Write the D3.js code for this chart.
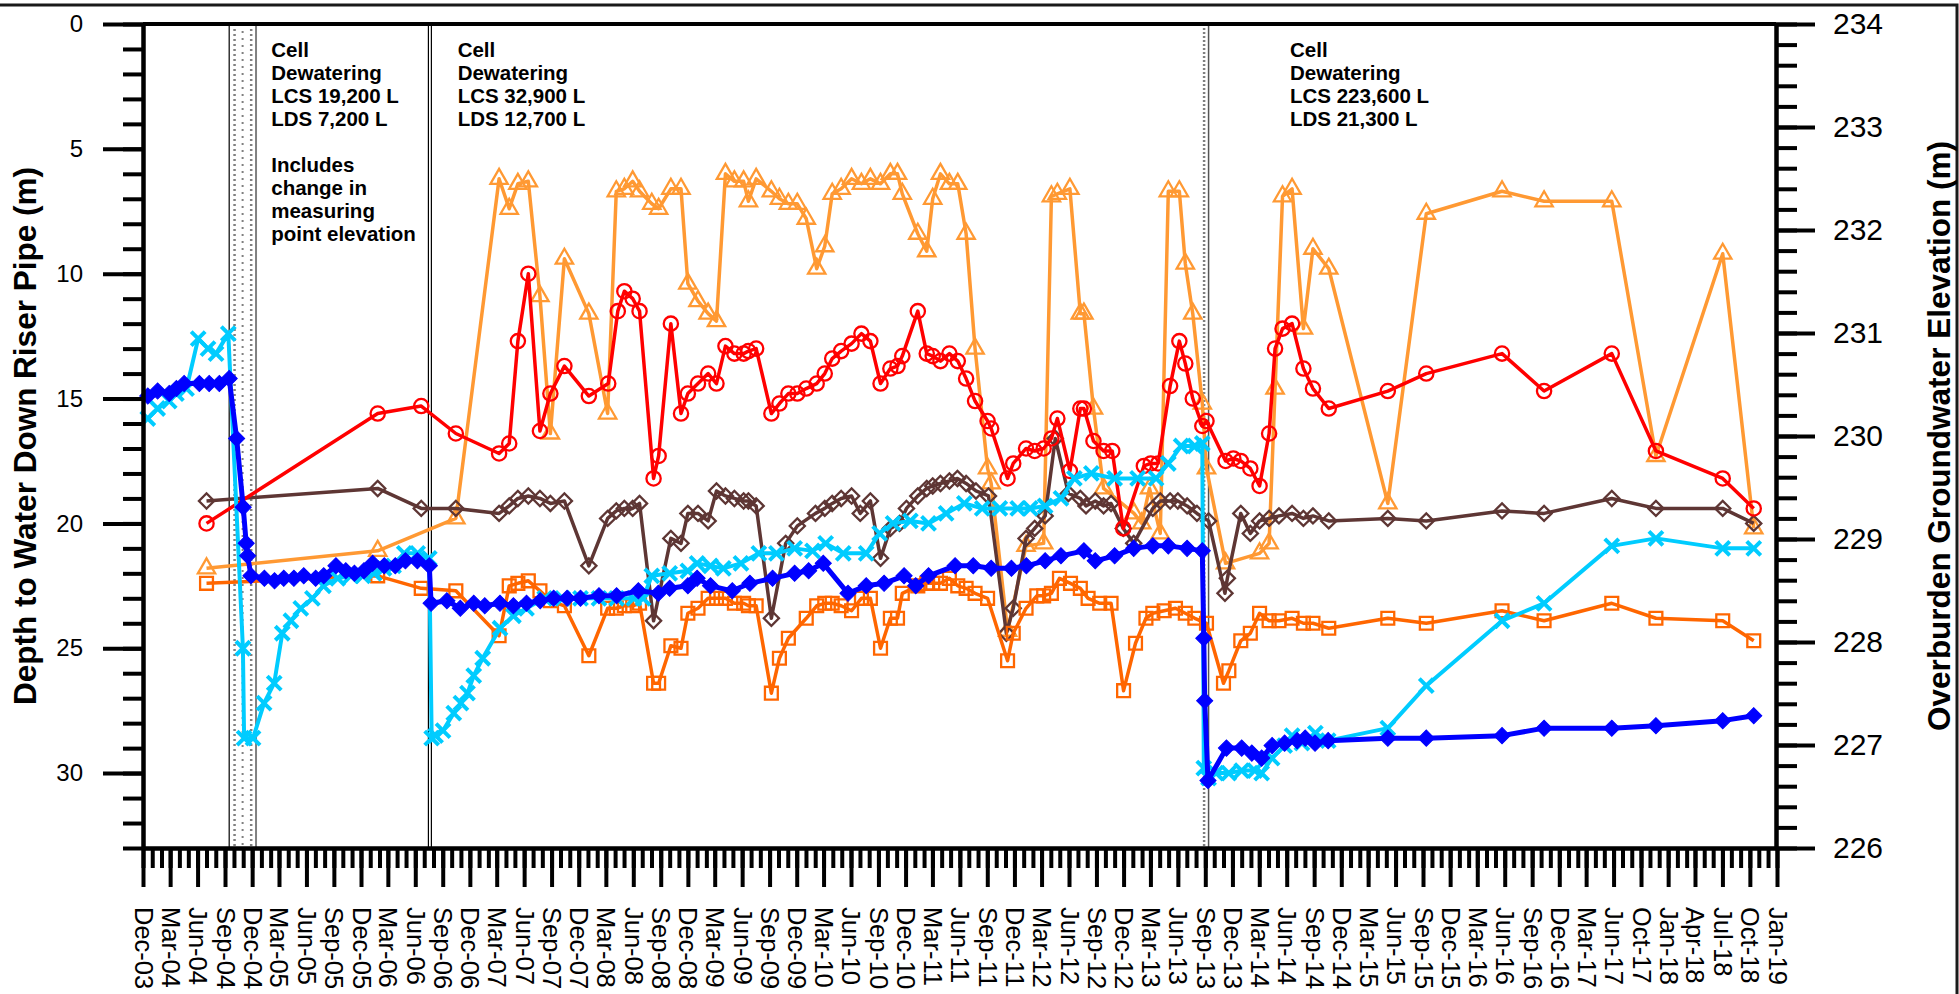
<!DOCTYPE html>
<html>
<head>
<meta charset="utf-8">
<script src="https://cdn.jsdelivr.net/npm/d3@7"></script>
<style>
body { margin: 0; background: #fff; }
svg text { font-family: "Liberation Sans", Arial, sans-serif; }
</style>
</head>
<body>
<script>
// Depth to water in riser pipes, Dec 2003 - Jan 2019

// tick labels along the bottom (one every quarter)
var tickLabels = ["Dec-03","Mar-04","Jun-04","Sep-04","Dec-04","Mar-05","Jun-05","Sep-05","Dec-05","Mar-06",
  "Jun-06","Sep-06","Dec-06","Mar-07","Jun-07","Sep-07","Dec-07","Mar-08","Jun-08","Sep-08","Dec-08","Mar-09",
  "Jun-09","Sep-09","Dec-09","Mar-10","Jun-10","Sep-10","Dec-10","Mar-11","Jun-11","Sep-11","Dec-11","Mar-12",
  "Jun-12","Sep-12","Dec-12","Mar-13","Jun-13","Sep-13","Dec-13","Mar-14","Jun-14","Sep-14","Dec-14","Mar-15",
  "Jun-15","Sep-15","Dec-15","Mar-16","Jun-16","Sep-16","Dec-16","Mar-17","Jun-17","Oct-17","Jan-18","Apr-18",
  "Jul-18","Oct-18","Jan-19"];
var depthTicks = [0, 5, 10, 15, 20, 25, 30];
var elevTicks = [226, 227, 228, 229, 230, 231, 232, 233, 234];

// open triangles
var pipeA = [["2004-07-01",21.8],["2006-01-26",21.1],["2006-10-15",19.8],["2007-03-09",6.2],["2007-04-12",7.4],
  ["2007-05-11",6.4],["2007-06-15",6.3],["2007-07-24",10.9],["2007-08-28",16.4],["2007-10-14",9.4],["2008-01-04",11.6],
  ["2008-03-07",15.6],["2008-04-05",6.7],["2008-05-02",6.6],["2008-05-30",6.3],["2008-06-22",6.7],["2008-08-02",7.2],
  ["2008-08-25",7.4],["2008-10-05",6.6],["2008-11-08",6.6],["2008-12-01",10.4],["2009-01-04",11.1],["2009-02-07",11.6],
  ["2009-03-07",11.9],["2009-04-06",6.0],["2009-05-06",6.3],["2009-06-06",6.3],["2009-06-22",7.1],["2009-07-18",6.2],
  ["2009-09-07",6.7],["2009-10-04",7.0],["2009-11-03",7.2],["2009-12-03",7.2],["2010-01-02",7.8],["2010-02-06",9.8],
  ["2010-03-05",8.9],["2010-03-30",6.8],["2010-04-29",6.6],["2010-06-03",6.2],["2010-07-06",6.4],["2010-08-05",6.2],
  ["2010-09-08",6.4],["2010-10-11",6.0],["2010-11-04",6.0],["2010-11-20",6.8],["2011-01-11",8.4],["2011-02-10",9.1],
  ["2011-03-02",7.0],["2011-03-28",6.0],["2011-04-27",6.4],["2011-05-25",6.4],["2011-06-22",8.4],["2011-07-22",13.0],
  ["2011-09-02",17.8],["2011-09-14",18.4],["2011-11-08",24.3],["2012-01-09",20.9],["2012-03-08",20.8],["2012-04-03",6.9],
  ["2012-04-23",6.8],["2012-06-04",6.6],["2012-07-09",11.6],["2012-07-21",11.6],["2012-08-22",15.4],["2012-09-25",18.6],
  ["2013-01-05",19.6],["2013-01-31",20.0],["2013-02-26",18.6],["2013-04-03",20.4],["2013-04-30",6.7],["2013-06-06",6.7],
  ["2013-06-26",9.6],["2013-07-21",11.6],["2013-08-22",15.2],["2013-09-05",17.8],["2013-11-08",21.6],["2014-03-02",21.2],
  ["2014-04-03",20.8],["2014-04-23",14.6],["2014-05-18",6.9],["2014-06-19",6.6],["2014-07-27",12.2],["2014-08-28",9.0],
  ["2014-10-20",9.8],["2015-05-06",19.2],["2015-09-12",7.6],["2016-05-23",6.7],["2016-10-11",7.1],["2017-05-26",7.1],
  ["2017-10-21",17.3],["2018-06-02",9.2],["2018-09-14",20.2]];

// open circles
var pipeB = [["2004-07-01",20.0],["2006-01-26",15.6],["2006-06-21",15.3],["2006-10-15",16.4],["2007-03-09",17.2],
  ["2007-04-12",16.8],["2007-05-11",12.7],["2007-06-15",10.0],["2007-07-24",16.3],["2007-08-28",14.8],["2007-10-14",13.7],
  ["2008-01-04",14.9],["2008-03-09",14.4],["2008-04-10",11.5],["2008-05-02",10.7],["2008-05-30",11.0],["2008-06-22",11.5],
  ["2008-08-08",18.2],["2008-08-25",17.3],["2008-10-05",12.0],["2008-11-08",15.6],["2008-12-01",14.8],["2009-01-04",14.4],
  ["2009-02-07",14.0],["2009-03-07",14.4],["2009-04-06",12.9],["2009-05-06",13.2],["2009-06-06",13.2],["2009-06-22",13.1],
  ["2009-07-18",13.0],["2009-09-07",15.6],["2009-10-04",15.2],["2009-11-03",14.8],["2009-12-03",14.8],["2010-01-02",14.6],
  ["2010-02-06",14.4],["2010-03-05",14.0],["2010-03-30",13.4],["2010-04-29",13.1],["2010-06-03",12.8],["2010-07-06",12.4],
  ["2010-08-05",12.7],["2010-09-08",14.4],["2010-10-11",13.8],["2010-11-04",13.7],["2010-11-20",13.3],["2011-01-11",11.5],
  ["2011-02-10",13.2],["2011-03-02",13.3],["2011-03-28",13.5],["2011-04-27",13.2],["2011-05-25",13.5],["2011-06-22",14.2],
  ["2011-07-22",15.1],["2011-09-02",15.9],["2011-09-14",16.2],["2011-11-08",18.2],["2011-11-27",17.6],["2012-01-09",17.0],
  ["2012-02-07",17.1],["2012-03-08",17.0],["2012-04-03",16.6],["2012-04-23",15.8],["2012-06-04",17.9],["2012-07-09",15.4],
  ["2012-07-21",15.4],["2012-08-22",16.7],["2012-09-25",17.1],["2012-10-24",17.1],["2012-11-30",20.2],["2013-02-07",17.7],
  ["2013-03-02",17.6],["2013-03-27",17.6],["2013-05-06",14.5],["2013-06-06",12.7],["2013-06-26",13.6],["2013-07-21",15.0],
  ["2013-08-22",16.1],["2013-09-05",15.9],["2013-11-08",17.5],["2013-12-04",17.4],["2013-12-29",17.5],["2014-01-30",17.8],
  ["2014-03-02",18.5],["2014-04-03",16.4],["2014-04-23",13.0],["2014-05-18",12.2],["2014-06-19",12.0],["2014-07-27",13.8],
  ["2014-08-28",14.6],["2014-10-20",15.4],["2015-05-06",14.7],["2015-09-12",14.0],["2016-05-23",13.2],["2016-10-11",14.7],
  ["2017-05-26",13.2],["2017-10-21",17.1],["2018-06-02",18.2],["2018-09-14",19.4]];

// open diamonds
var pipeC = [["2004-07-01",19.1],["2006-01-26",18.6],["2006-06-21",19.4],["2006-10-15",19.4],["2007-03-09",19.6],
  ["2007-04-12",19.3],["2007-05-11",19.0],["2007-06-15",18.9],["2007-07-24",19.0],["2007-08-28",19.2],["2007-10-14",19.1],
  ["2008-01-04",21.7],["2008-03-07",19.8],["2008-04-05",19.5],["2008-05-02",19.4],["2008-05-30",19.4],["2008-06-22",19.2],
  ["2008-08-08",23.9],["2008-10-05",20.6],["2008-11-08",20.8],["2008-12-01",19.6],["2009-01-04",19.6],["2009-02-07",19.9],
  ["2009-03-07",18.7],["2009-04-06",18.9],["2009-05-06",19.0],["2009-06-06",19.1],["2009-06-22",19.1],["2009-07-18",19.3],
  ["2009-09-07",23.8],["2009-10-25",20.8],["2009-12-03",20.1],["2010-02-02",19.6],["2010-03-05",19.4],["2010-03-30",19.2],
  ["2010-04-29",19.0],["2010-06-03",18.9],["2010-07-02",19.6],["2010-08-05",19.1],["2010-09-08",21.4],["2010-10-11",20.2],
  ["2010-11-11",20.0],["2010-12-04",19.4],["2011-01-11",18.9],["2011-02-10",18.6],["2011-03-02",18.5],["2011-03-28",18.4],
  ["2011-04-27",18.3],["2011-05-24",18.2],["2011-06-22",18.4],["2011-07-25",18.7],["2011-09-05",18.9],["2011-11-04",24.4],
  ["2011-11-27",23.4],["2012-01-09",20.6],["2012-02-07",20.2],["2012-03-13",19.7],["2012-04-16",16.6],["2012-05-30",18.8],
  ["2012-07-09",19.0],["2012-07-28",19.3],["2012-08-28",19.1],["2012-09-25",19.3],["2012-10-20",19.2],["2012-11-30",20.2],
  ["2013-01-04",20.8],["2013-03-09",19.4],["2013-04-03",19.1],["2013-05-06",19.1],["2013-06-01",19.1],["2013-07-02",19.3],
  ["2013-08-04",19.6],["2013-09-12",19.9],["2013-11-06",22.8],["2013-11-14",22.2],["2013-12-29",19.6],["2014-01-30",20.4],
  ["2014-03-02",19.9],["2014-04-03",19.8],["2014-05-06",19.7],["2014-06-19",19.6],["2014-07-27",19.8],["2014-08-28",19.7],
  ["2014-10-20",19.9],["2015-05-06",19.8],["2015-09-12",19.9],["2016-05-23",19.5],["2016-10-11",19.6],["2017-05-26",19.0],
  ["2017-10-21",19.4],["2018-06-02",19.4],["2018-09-14",20.0]];

// open squares
var pipeD = [["2004-07-01",22.4],["2006-01-26",22.1],["2006-06-21",22.6],["2006-10-15",22.7],["2007-03-09",24.5],
  ["2007-04-12",22.5],["2007-05-11",22.4],["2007-06-15",22.3],["2007-07-24",22.7],["2007-08-28",23.1],["2007-10-14",23.3],
  ["2008-01-04",25.3],["2008-03-07",23.4],["2008-04-05",23.4],["2008-05-02",23.3],["2008-05-30",23.3],["2008-06-22",23.2],
  ["2008-08-08",26.4],["2008-08-25",26.4],["2008-10-05",24.9],["2008-11-08",25.0],["2008-12-01",23.6],["2009-01-04",23.4],
  ["2009-02-07",23.0],["2009-03-07",23.0],["2009-04-06",23.0],["2009-05-06",23.2],["2009-06-06",23.2],["2009-06-22",23.3],
  ["2009-07-18",23.3],["2009-09-07",26.8],["2009-10-04",25.4],["2009-11-03",24.6],["2010-01-02",23.8],["2010-02-06",23.3],
  ["2010-03-05",23.2],["2010-03-30",23.2],["2010-04-29",23.3],["2010-06-03",23.5],["2010-07-06",23.0],["2010-08-05",23.0],
  ["2010-09-08",25.0],["2010-10-11",23.8],["2010-11-04",23.8],["2010-11-20",22.8],["2011-01-11",22.5],["2011-02-10",22.4],
  ["2011-03-02",22.4],["2011-03-28",22.4],["2011-04-27",22.2],["2011-05-25",22.5],["2011-06-22",22.6],["2011-07-22",22.8],
  ["2011-09-02",23.0],["2011-11-08",25.5],["2011-11-27",24.4],["2012-01-09",23.4],["2012-02-14",22.9],["2012-03-08",22.9],
  ["2012-04-03",22.8],["2012-04-30",22.2],["2012-06-06",22.4],["2012-07-09",22.6],["2012-08-04",23.0],["2012-09-12",23.2],
  ["2012-10-20",23.2],["2012-12-01",26.7],["2013-01-10",24.8],["2013-02-14",23.8],["2013-03-09",23.6],["2013-04-16",23.5],
  ["2013-05-24",23.4],["2013-06-26",23.6],["2013-07-28",23.8],["2013-09-05",24.0],["2013-11-01",26.4],["2013-11-19",25.9],
  ["2013-12-29",24.7],["2014-01-30",24.4],["2014-03-02",23.6],["2014-04-03",23.9],["2014-05-06",23.9],["2014-06-19",23.8],
  ["2014-07-27",24.0],["2014-08-28",24.0],["2014-10-20",24.2],["2015-05-06",23.8],["2015-09-12",24.0],["2016-05-23",23.5],
  ["2016-10-11",23.9],["2017-05-26",23.2],["2017-10-21",23.8],["2018-06-02",23.9],["2018-09-14",24.7]];

// crosses
var pipeE = [["2003-12-17",15.8],["2004-01-19",15.4],["2004-02-27",15.1],["2004-03-22",14.8],["2004-04-25",14.6],
  ["2004-06-03",12.6],["2004-07-06",13.0],["2004-08-02",13.2],["2004-09-12",12.4],["2004-10-31",25.0],["2004-11-04",28.6],
  ["2004-12-04",28.6],["2005-01-10",27.2],["2005-02-13",26.4],["2005-03-12",24.4],["2005-04-10",23.9],["2005-05-13",23.4],
  ["2005-06-21",23.0],["2005-07-28",22.5],["2005-09-14",22.2],["2005-10-28",22.1],["2005-12-07",22.1],["2006-01-14",22.0],
  ["2006-02-16",21.8],["2006-03-20",21.7],["2006-04-25",21.2],["2006-06-09",21.2],["2006-07-18",21.4],["2006-07-26",28.6],
  ["2006-08-08",28.5],["2006-09-02",28.3],["2006-10-08",27.6],["2006-11-01",27.2],["2006-11-23",26.8],["2006-12-14",26.1],
  ["2007-01-13",25.4],["2007-03-12",24.2],["2007-04-26",23.7],["2007-06-09",23.4],["2007-08-09",23.0],["2007-10-08",23.0],
  ["2007-12-07",23.0],["2008-02-07",23.0],["2008-04-06",23.0],["2008-06-03",23.0],["2008-07-04",23.0],["2008-08-02",22.1],
  ["2008-10-01",22.0],["2008-12-01",21.9],["2009-01-01",21.6],["2009-02-15",21.7],["2009-03-30",21.8],["2009-05-28",21.6],
  ["2009-07-27",21.2],["2009-09-24",21.2],["2009-11-24",21.0],["2010-01-23",21.1],["2010-03-08",20.8],["2010-05-06",21.2],
  ["2010-07-22",21.2],["2010-09-05",20.4],["2010-10-20",20.0],["2010-12-17",19.9],["2011-02-16",20.0],["2011-04-16",19.6],
  ["2011-06-16",19.2],["2011-08-15",19.4],["2011-10-13",19.4],["2011-12-12",19.4],["2012-01-23",19.4],["2012-03-13",19.3],
  ["2012-05-05",19.0],["2012-06-19",18.2],["2012-08-15",18.0],["2012-11-01",18.2],["2013-01-17",18.2],["2013-03-20",18.2],
  ["2013-04-30",17.6],["2013-06-12",16.9],["2013-07-28",16.9],["2013-08-22",16.8],["2013-08-27",29.8],["2013-09-12",30.2],
  ["2013-10-07",30.0],["2013-11-19",30.0],["2014-01-01",29.9],["2014-02-14",29.9],["2014-03-09",30.0],["2014-04-13",29.4],
  ["2014-05-25",28.9],["2014-06-19",28.5],["2014-07-22",28.8],["2014-09-05",28.4],["2014-10-18",28.7],["2015-05-06",28.2],
  ["2015-09-12",26.5],["2016-05-23",23.9],["2016-10-11",23.2],["2017-05-26",20.9],["2017-10-21",20.6],["2018-06-02",21.0],
  ["2018-09-14",21.0]];

// filled diamonds
var pipeF = [["2003-12-17",14.9],["2004-01-19",14.7],["2004-02-27",14.8],["2004-03-22",14.6],["2004-04-17",14.4],
  ["2004-06-07",14.4],["2004-07-10",14.4],["2004-08-13",14.4],["2004-09-15",14.2],["2004-10-10",16.6],["2004-11-01",19.35],
  ["2004-11-11",20.8],["2004-11-16",21.3],["2004-11-27",22.1],["2005-01-11",22.2],["2005-02-14",22.3],["2005-03-17",22.2],
  ["2005-04-20",22.2],["2005-05-23",22.1],["2005-07-02",22.2],["2005-07-29",22.1],["2005-09-08",21.7],["2005-10-11",21.9],
  ["2005-11-09",22.0],["2005-12-11",21.9],["2006-01-09",21.6],["2006-02-17",21.7],["2006-03-26",21.7],["2006-04-29",21.5],
  ["2006-06-08",21.5],["2006-07-18",21.7],["2006-07-24",23.2],["2006-09-15",23.1],["2006-10-30",23.4],["2006-12-14",23.2],
  ["2007-01-20",23.3],["2007-03-12",23.2],["2007-04-26",23.3],["2007-06-09",23.2],["2007-07-25",23.1],["2007-09-08",23.0],
  ["2007-10-23",23.0],["2007-12-07",23.0],["2008-02-07",22.9],["2008-04-06",22.9],["2008-06-18",22.7],["2008-08-24",22.8],
  ["2008-10-01",22.6],["2008-12-01",22.5],["2009-01-01",22.2],["2009-02-15",22.5],["2009-04-29",22.7],["2009-06-27",22.4],
  ["2009-09-11",22.2],["2009-11-24",22.0],["2010-01-10",21.9],["2010-02-28",21.6],["2010-05-22",22.8],["2010-07-22",22.5],
  ["2010-09-20",22.4],["2010-11-26",22.1],["2011-01-04",22.5],["2011-02-16",22.1],["2011-05-16",21.7],["2011-07-16",21.7],
  ["2011-09-14",21.8],["2011-11-21",21.8],["2012-01-10",21.7],["2012-03-13",21.5],["2012-05-05",21.3],["2012-07-21",21.1],
  ["2012-08-28",21.5],["2012-11-01",21.3],["2013-01-04",21.0],["2013-03-09",20.9],["2013-04-30",20.9],["2013-07-02",21.0],
  ["2013-08-22",21.1],["2013-08-27",24.6],["2013-08-30",27.1],["2013-09-10",30.3],["2013-11-11",29.0],["2014-01-01",29.0],
  ["2014-02-04",29.2],["2014-03-09",29.4],["2014-04-13",28.9],["2014-05-25",28.8],["2014-07-06",28.7],["2014-08-02",28.6],
  ["2014-09-04",28.8],["2014-10-18",28.7],["2015-05-06",28.6],["2015-09-12",28.6],["2016-05-23",28.5],["2016-10-11",28.2],
  ["2017-05-26",28.2],["2017-10-21",28.1],["2018-06-02",27.9],["2018-09-14",27.7]];

// cell dewatering events
var dewatering = [
  { start: "2004-09-15", end: "2004-12-14", kind: "band" },
  { start: "2006-07-15", end: "2006-07-25", kind: "double" },
  { start: "2013-08-28", end: "2013-09-12", kind: "narrow" }
];
var notes = [
  { date: "2005-02-03", lines: ["Cell", "Dewatering", "LCS 19,200 L", "LDS 7,200 L", "", "Includes", "change in", "measuring", "point elevation"] },
  { date: "2006-10-21", lines: ["Cell", "Dewatering", "LCS 32,900 L", "LDS 12,700 L"] },
  { date: "2014-06-12", lines: ["Cell", "Dewatering", "LCS 223,600 L", "LDS 21,300 L"] }
];

// Settings
var w = 1959, h = 994;
var pL = 143, pR = 1776, pT = 24, pB = 848;
var parse = d3.timeParse("%Y-%m-%d");
var start = new Date(2003, 11, 1), end = new Date(2018, 11, 1);

var svg = d3.select("body").append("svg")
  .attr("width", w).attr("height", h);

// outer frame
svg.append("rect")
  .attr("x", -3).attr("y", 5).attr("width", 1960).attr("height", 1000)
  .attr("fill", "none").attr("stroke", "#1a1a1a").attr("stroke-width", 3);

var xScale = d3.scaleTime().domain([start, end]).range([pL, pR + 1]);
var yScale = d3.scaleLinear().domain([0, 33]).range([pT, pB]);
var y2Scale = d3.scaleLinear().domain([226, 234]).range([pB, pT]);

// dewatering markers
dewatering.forEach(function(ev) {
  var x0 = xScale(parse(ev.start)), x1 = xScale(parse(ev.end));
  var g = svg.append("g");
  if (ev.kind === "band") {
    [0.2, 0.5, 0.82].forEach(function(f, i) {
      g.append("line").attr("x1", x0 + (x1 - x0) * f).attr("x2", x0 + (x1 - x0) * f)
        .attr("y1", pT).attr("y2", pB)
        .attr("stroke", "#808080").attr("stroke-width", i === 1 ? 2 : 2.5)
        .attr("stroke-dasharray", i === 1 ? "2,5" : "2,3");
    });
    g.append("line").attr("x1", x0).attr("x2", x0).attr("y1", pT).attr("y2", pB)
      .attr("stroke", "#000").attr("stroke-width", 1.2);
    g.append("line").attr("x1", x1).attr("x2", x1).attr("y1", pT).attr("y2", pB)
      .attr("stroke", "#808080").attr("stroke-width", 2);
  } else if (ev.kind === "double") {
    [x0, x1].forEach(function(xx) {
      g.append("line").attr("x1", xx).attr("x2", xx).attr("y1", pT).attr("y2", pB)
        .attr("stroke", "#000").attr("stroke-width", 1.2);
    });
  } else {
    g.append("line").attr("x1", x0).attr("x2", x0).attr("y1", pT).attr("y2", pB)
      .attr("stroke", "#808080").attr("stroke-width", 2.5).attr("stroke-dasharray", "2,2");
    g.append("line").attr("x1", x1).attr("x2", x1).attr("y1", pT).attr("y2", pB)
      .attr("stroke", "#555").attr("stroke-width", 1.5);
  }
});

// annotations
notes.forEach(function(n) {
  var t = svg.append("text")
    .attr("x", xScale(parse(n.date))).attr("y", 57)
    .attr("font-size", 20.5).attr("font-weight", "bold").attr("fill", "#000");
  n.lines.forEach(function(s, i) {
    t.append("tspan").attr("x", xScale(parse(n.date))).attr("y", 57 + i * 23).text(s);
  });
});

// series, drawn bottom to top
var diamond = function(size) { return d3.symbol().type(d3.symbolSquare).size(size); };
var series = [
  { data: pipeA, color: "#FF9933", width: 3.5, sym: d3.symbol().type(d3.symbolTriangle).size(130), rot: 0, fill: "none" },
  { data: pipeC, color: "#5E3634", width: 3.5, sym: diamond(115), rot: 45, fill: "none" },
  { data: pipeD, color: "#FF6600", width: 3.5, sym: d3.symbol().type(d3.symbolSquare).size(165), rot: 0, fill: "none" },
  { data: pipeB, color: "#FF0000", width: 3.5, sym: d3.symbol().type(d3.symbolCircle).size(160), rot: 0, fill: "none" },
  { data: pipeE, color: "#00CCFF", width: 4, sym: null, rot: 0, fill: "none" },
  { data: pipeF, color: "#0000FF", width: 5, sym: diamond(130), rot: 45, fill: "#0000FF" }
];

var line = d3.line()
  .x(function(d) { return xScale(parse(d[0])); })
  .y(function(d) { return yScale(d[1]); });

series.forEach(function(s) {
  svg.append("path")
    .datum(s.data)
    .attr("d", line)
    .attr("fill", "none")
    .attr("stroke", s.color)
    .attr("stroke-width", s.width)
    .attr("stroke-linejoin", "round");

  var marks = svg.append("g").selectAll("path")
    .data(s.data)
    .enter()
    .append("path")
    .attr("transform", function(d) {
      return "translate(" + xScale(parse(d[0])) + "," + yScale(d[1]) + ") rotate(" + s.rot + ")";
    });
  if (s.sym) {
    marks.attr("d", s.sym)
      .attr("fill", s.fill)
      .attr("stroke", s.color)
      .attr("stroke-width", s.fill === "none" ? 2.3 : 1);
  } else {
    marks.attr("d", "M-7,-7L7,7M-7,7L7,-7")
      .attr("fill", "none")
      .attr("stroke", s.color)
      .attr("stroke-width", 4);
  }
});

// axes
function styleAxis(g, fontSize) {
  g.attr("font-family", "Liberation Sans, Arial, sans-serif").attr("font-size", fontSize);
  g.select(".domain").attr("stroke", "#000").attr("stroke-width", 4);
  g.selectAll(".tick line").attr("stroke", "#000").attr("stroke-width", 4);
  g.selectAll(".tick text").attr("fill", "#000");
}

// top edge of plot
svg.append("line")
  .attr("x1", pL).attr("x2", pR).attr("y1", pT).attr("y2", pT)
  .attr("stroke", "#000").attr("stroke-width", 4);

// left axis
svg.append("g").attr("transform", "translate(" + pL + ",0)")
  .call(d3.axisLeft(yScale).tickValues(d3.range(0, 34)).tickSize(20).tickSizeOuter(0).tickFormat(""))
  .call(styleAxis, 24);
svg.append("g").attr("transform", "translate(" + pL + ",0)")
  .call(d3.axisLeft(yScale).tickValues(depthTicks).tickSize(40).tickPadding(20).tickSizeOuter(0))
  .call(styleAxis, 24);

// right axis
svg.append("g").attr("transform", "translate(" + pR + ",0)")
  .call(d3.axisRight(y2Scale).tickValues(d3.range(0, 41).map(function(i) { return 226 + i * 0.2; }))
    .tickSize(21).tickSizeOuter(0).tickFormat(""))
  .call(styleAxis, 30);
svg.append("g").attr("transform", "translate(" + pR + ",0)")
  .call(d3.axisRight(y2Scale).tickValues(elevTicks).tickSize(39).tickPadding(18).tickSizeOuter(0))
  .call(styleAxis, 30);

// bottom axis
var monthTicks = d3.range(0, 181).map(function(i) { return d3.timeMonth.offset(start, i); });
var quarterTicks = tickLabels.map(function(lab, i) { return d3.timeMonth.offset(start, i * 3); });
svg.append("g").attr("transform", "translate(0," + pB + ")")
  .call(d3.axisBottom(xScale).tickValues(monthTicks).tickSize(20).tickSizeOuter(0).tickFormat(""))
  .call(styleAxis, 25.5);
var xg = svg.append("g").attr("transform", "translate(0," + pB + ")")
  .call(d3.axisBottom(xScale).tickValues(quarterTicks).tickSize(39).tickSizeOuter(0)
    .tickFormat(function(d, i) { return tickLabels[i]; }))
  .call(styleAxis, 25.5);
xg.selectAll(".tick text")
  .attr("y", 0).attr("dy", null)
  .attr("text-anchor", "start")
  .attr("transform", "translate(-9,59) rotate(90)");

// axis titles
svg.append("text")
  .attr("transform", "translate(36," + (pT + pB) / 2 + ") rotate(-90)")
  .attr("text-anchor", "middle")
  .attr("font-size", 31.5).attr("font-weight", "bold")
  .text("Depth to Water Down Riser Pipe (m)");
svg.append("text")
  .attr("transform", "translate(1950," + (pT + pB) / 2 + ") rotate(-90)")
  .attr("text-anchor", "middle")
  .attr("font-size", 31.5).attr("font-weight", "bold")
  .text("Overburden Groundwater Elevation (m)");
</script>
</body>
</html>
